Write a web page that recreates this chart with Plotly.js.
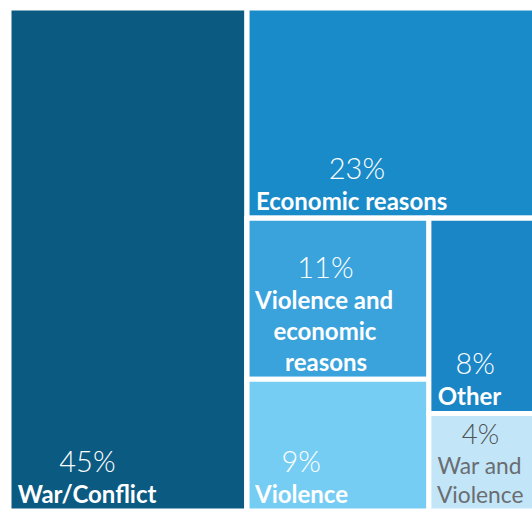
<!DOCTYPE html>
<html>
<head>
<meta charset="utf-8">
<script src="https://cdn.plot.ly/plotly-3.0.1.min.js"></script>
<style>
  html, body { margin: 0; padding: 0; overflow: hidden; background: #ffffff; }
  #chart { width: 538px; height: 511px; }
</style>
</head>
<body>
<div id="chart"></div>
<script>
// Data
const categories = ['War/Conflict', 'Economic reasons', 'Violence and<br>economic<br>reasons', 'Violence', 'Other', 'War and<br>Violence'];
const shares = [45, 23, 11, 9, 8, 4];
// Grouping used to reproduce the reference tiling (structure only)
const leafParents = ['', 'g1', 'g3', 'g3', 'g4', 'g4'];
const groupIds = ['g1', 'g2', 'g3', 'g4'];
const groupParents = ['', 'g1', 'g2', 'g2'];
// Styles
const leafColors = ['#0b5a82', '#1a8bc9', '#3aa3dc', '#76cdf3', '#1a86c6', '#c2e6f8'];
const leafTextColors = ['#ffffff', '#ffffff', '#ffffff', '#ffffff', '#ffffff', '#4f5256'];
const labelWeights = ['bold', 'bold', 'bold', 'bold', 'bold', 'normal'];
const labelColors = ['#ffffff', '#ffffff', '#ffffff', '#ffffff', '#ffffff', '#6a6d71'];

const FONT = 'Lato';
const LABEL_SIZE = 24;
const PCT_SIZE = 29;

// Measure text to centre each line within the text block (lines centred, block left-aligned)
const ctx = document.createElement('canvas').getContext('2d');
function measure(str, weight, size) {
  ctx.font = weight + ' ' + size + 'px ' + FONT;
  return ctx.measureText(str).width;
}
const NB = '\u00a0';
function padTo(target, w, weight, size) {
  const sp = measure(NB, weight, size);
  const n = Math.max(0, Math.round(((target - w) / 2) / sp));
  return NB.repeat(n);
}
function buildText(cat, share, weight, color) {
  const pct = share + '%';
  const lines = cat.split('<br>');
  const pw = measure(pct, '300', PCT_SIZE);
  const lw = lines.map(l => measure(l, weight, LABEL_SIZE));
  const maxW = Math.max(pw, ...lw);
  const lead = NB;
  let out = '<span style="font-size:' + PCT_SIZE + 'px;font-weight:300">' + lead + padTo(maxW, pw, '300', PCT_SIZE) + pct + '</span>';
  lines.forEach((l, i) => {
    out += '<br><span style="font-weight:' + weight + ';color:' + color + '">' + lead + padTo(maxW, lw[i], weight, LABEL_SIZE) + l + '</span>';
  });
  return out;
}

const ids = categories.map((c, i) => 'leaf' + i).concat(groupIds);
const labels = categories.concat(groupIds);
const parents = leafParents.concat(groupParents);
const values = shares.concat(groupIds.map(() => 0));
const texts = categories.map((c, i) => buildText(c, shares[i], labelWeights[i], labelColors[i])).concat(groupIds.map(() => ''));
const colors = leafColors.concat(groupIds.map(() => '#ffffff'));
const textColors = leafTextColors.concat(groupIds.map(() => '#ffffff'));

const trace = {
  type: 'treemap',
  ids: ids,
  labels: labels,
  parents: parents,
  values: values,
  branchvalues: 'remainder',
  sort: false,
  text: texts,
  texttemplate: '%{text}',
  textposition: 'bottom left',
  hoverinfo: 'skip',
  tiling: { packing: 'slice-dice', pad: 0 },
  pathbar: { visible: false },
  marker: {
    colors: colors,
    line: { color: '#ffffff', width: 5 },
    pad: { t: 0, l: 0, r: 0, b: 0 }
  },
  insidetextfont: { family: FONT + ', "Open Sans", sans-serif', size: LABEL_SIZE, color: textColors }
};

const layout = {
  width: 538,
  height: 511,
  margin: { l: 9, r: 0, t: 8, b: 0 },
  paper_bgcolor: '#ffffff',
  showlegend: false
};

Plotly.newPlot('chart', [trace], layout, { displayModeBar: false, staticPlot: true });
</script>
</body>
</html>
